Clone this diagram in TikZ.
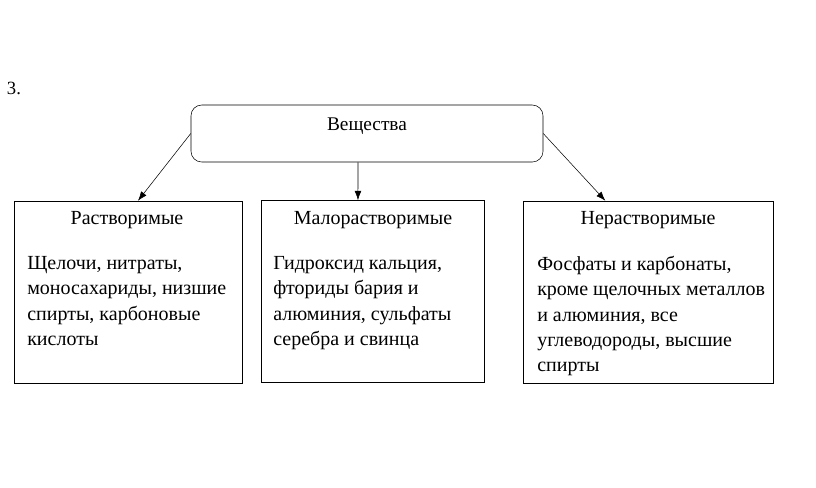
\documentclass[tikz,border=0pt]{standalone}
\usepackage{fontspec}
\setmainfont{Liberation Serif}
\usetikzlibrary{positioning, arrows.meta}

\begin{document}
\begin{tikzpicture}[x=0.75pt, y=-0.75pt,
	rootbox/.style={draw, rounded corners=8pt, minimum width=264pt, minimum height=42.75pt},
	groupbox/.style={draw, minimum height=136.5pt},
	grouptitle/.style={font=\fontsize{15}{18}\selectfont},
	grouptext/.style={anchor=north west, align=left, inner sep=0pt, font=\fontsize{15}{19}\selectfont},
	link/.style={-{Latex[length=7pt, width=5pt]}}]

	\useasboundingbox (0,0) rectangle (816,487);

	% Number
	\node[font=\fontsize{14}{16}\selectfont] (num) at (14,88) {3.};

	% Root
	\node[rootbox] (root) at (367,133.5) {};
	\node[grouptitle, font=\fontsize{14.5}{17}\selectfont] (roottxt) at (367,126) {Вещества};

	% Groups
	\node[groupbox, minimum width=171pt] (sol) at (128,292) {};
	\node[groupbox, minimum width=167.25pt] (low) at (372.5,291.5) {};
	\node[groupbox, minimum width=187.5pt] (insol) at (648,292) {};

	% Titles
	\node[grouptitle] (soltitle) at (127,220) {Растворимые};
	\node[grouptitle] (lowtitle) at (373,220) {Малорастворимые};
	\node[grouptitle] (insoltitle) at (648,220) {Нерастворимые};

	% Contents
	\node[grouptext] (soltext) at (27,256) {Щелочи, нитраты,\\моносахариды, низшие\\спирты, карбоновые\\кислоты};
	\node[grouptext] (lowtext) at (273,256) {Гидроксид кальция,\\фториды бария и\\алюминия, сульфаты\\серебра и свинца};
	\node[grouptext] (insoltext) at (537,256) {Фосфаты и карбонаты,\\кроме щелочных металлов\\и алюминия, все\\углеводороды, высшие\\спирты};

	% Arrows
	\draw[link] (root.west) -- ([xshift=7.5pt]sol.north);
	\draw[link] ([xshift=-6.75pt]root.south) -- ([xshift=-10.9pt]low.north);
	\draw[link] (root.east) -- ([xshift=-32pt]insol.north);

\end{tikzpicture}
\end{document}
